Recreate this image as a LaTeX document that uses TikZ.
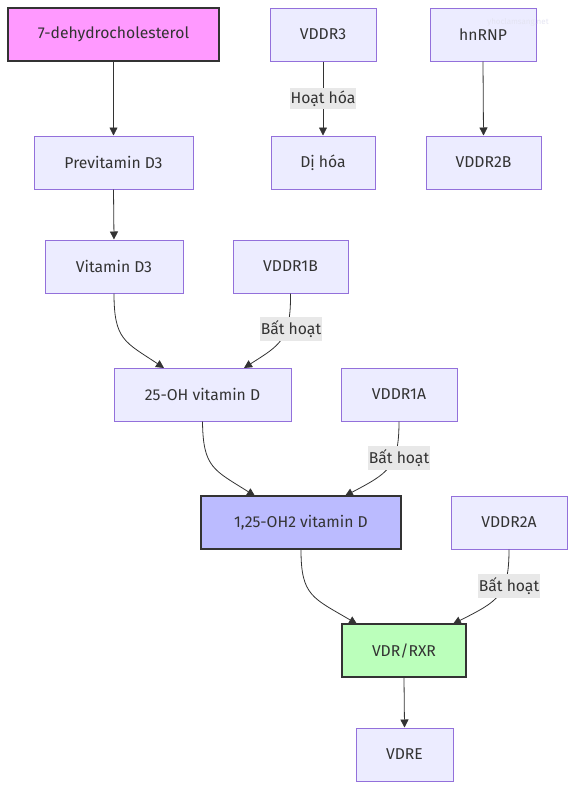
\documentclass[tikz,border=0pt]{standalone}
\usepackage{fontspec}
\setmainfont{Fira Sans}
\usetikzlibrary{arrows.meta}
\definecolor{nodefill}{HTML}{ECECFF}
\definecolor{nodeline}{HTML}{9370DB}
\definecolor{txt}{HTML}{333333}
\definecolor{pinkfill}{HTML}{FF99FF}
\definecolor{bluefill}{HTML}{BBBBFF}
\definecolor{greenfill}{HTML}{BBFFBB}
\definecolor{labelbg}{HTML}{E8E8E8}
\definecolor{wm}{HTML}{E4E4F2}
\tikzset{
  box/.style={draw=nodeline, fill=nodefill, line width=1pt, text=txt, font=\fontsize{15.7}{17}\selectfont, minimum height=53pt, inner sep=0pt},
  strong/.style={box, draw=txt, line width=2pt},
  conn/.style={draw=txt, line width=0.8pt, -{Triangle[length=8pt,width=8pt]}},
  elabel/.style={fill=labelbg, text=txt, font=\fontsize{15.7}{17}\selectfont, inner xsep=1pt, inner ysep=3pt}
}
\begin{document}
\begin{tikzpicture}[x=1pt,y=-1pt]
\useasboundingbox (0,0) rectangle (575,790);
% nodes
\node[strong, fill=pinkfill, minimum width=211pt] (dhc) at (113.5,34.5) {7-dehydrocholesterol};
\node[box, minimum width=106pt] (vddr3) at (323,34.5) {VDDR3};
\node[box, minimum width=106pt] (hnrnp) at (483,34.5) {hnRNP};
\node[box, minimum width=159pt] (prev) at (113.5,162.5) {Previtamin D3};
\node[box, minimum width=104pt] (dihoa) at (323,162.5) {Dị hóa};
\node[box, minimum width=115pt] (vddr2b) at (483.5,162.5) {VDDR2B};
\node[box, minimum width=138pt] (vitd3) at (114,266.5) {Vitamin D3};
\node[box, minimum width=115pt] (vddr1b) at (290.5,266.5) {VDDR1B};
\node[box, minimum width=177pt] (ohd) at (202.5,394.5) {25-OH vitamin D};
\node[box, minimum width=116pt] (vddr1a) at (399,394.5) {VDDR1A};
\node[strong, fill=bluefill, minimum width=200pt] (dioh) at (301,522.5) {1,25-OH2 vitamin D};
\node[box, minimum width=116pt] (vddr2a) at (509,522.5) {VDDR2A};
\node[strong, fill=greenfill, minimum width=124pt] (vdr) at (404,650.5) {VDR/RXR};
\node[box, minimum width=97pt] (vdre) at (404.5,754.5) {VDRE};
% watermark
\node[text=wm, font=\fontsize{8}{9}\selectfont, inner sep=0pt] (wmark) at (518,22) {yhoclamsang.net};
% coordinates for curved ends
\coordinate (ohdA) at (164,368);
\coordinate (ohdB) at (244,368);
\coordinate (diohA) at (255,496);
\coordinate (diohB) at (345,496);
\coordinate (vdrA) at (357,624);
\coordinate (vdrB) at (453,624);
% connectors
\draw[conn] (dhc.south) -- (prev.north);
\draw[conn] (vddr3.south) -- (dihoa.north) node[elabel, midway] (l1) {Hoạt hóa};
\draw[conn] (hnrnp.south) -- (vddr2b.north);
\draw[conn] (prev.south) -- (vitd3.north);
\draw[conn] (vitd3.south) .. controls (114,340) and (125,342) .. (ohdA);
\draw[conn] (vddr1b.south) .. controls (291,340) and (280,345) .. (ohdB);
\node[elabel] (l2) at (291,329) {Bất hoạt};
\draw[conn] (ohd.south) .. controls (203,468) and (214,470) .. (diohA);
\draw[conn] (vddr1a.south) .. controls (399,468) and (388,473) .. (diohB);
\node[elabel] (l3) at (399,458) {Bất hoạt};
\draw[conn] (dioh.south) .. controls (301,596) and (313,598) .. (vdrA);
\draw[conn] (vddr2a.south) .. controls (509,596) and (498,601) .. (vdrB);
\node[elabel] (l4) at (509,586) {Bất hoạt};
\draw[conn] (vdr.south) -- (vdre.north);
\end{tikzpicture}
\end{document}
